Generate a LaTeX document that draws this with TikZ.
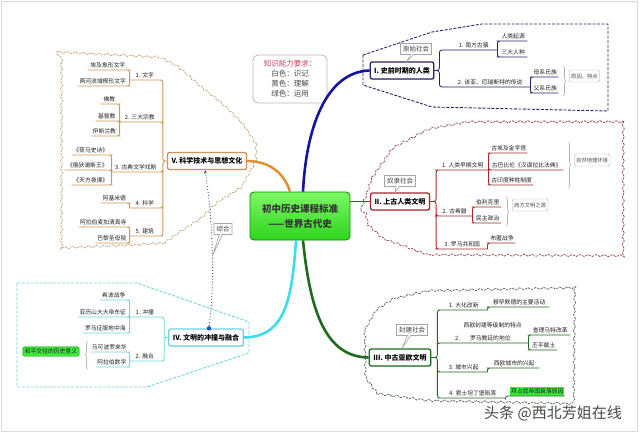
\documentclass[tikz,border=0pt]{standalone}
\usepackage{fontspec}
\setmainfont{Noto Sans CJK SC}
\usepackage{xcolor}
\usetikzlibrary{arrows.meta, shapes.callouts, decorations.pathmorphing, decorations.pathreplacing, shadows}

\definecolor{blueI}{HTML}{1414A0}
\definecolor{navyI}{HTML}{23246A}
\definecolor{redII}{HTML}{A02828}
\definecolor{cloudII}{HTML}{A04A4A}
\definecolor{greenIII}{HTML}{1E6A1E}
\definecolor{cloudIII}{HTML}{4E6A4E}
\definecolor{cyanIV}{HTML}{3EDDEE}
\definecolor{lineIV}{HTML}{6FD3E0}
\definecolor{orangeV}{HTML}{E58C30}
\definecolor{lineV}{HTML}{CF9355}
\definecolor{cloudV}{HTML}{C9A272}
\definecolor{legendred}{HTML}{C8405A}
\definecolor{hubtop}{HTML}{7CF865}
\definecolor{hubbot}{HTML}{2FD41E}
\definecolor{hilite}{HTML}{3BEA3B}

\begin{document}
\begin{tikzpicture}[x=1pt, y=-1pt,
    hub/.style={draw=green!55!black, line width=0.8pt, rounded corners=4pt, top color=hubtop, bottom color=hubbot,
      align=center, font=\fontsize{9.5}{15}\selectfont\bfseries, text=black!80, minimum width=100pt, minimum height=48pt},
    legend/.style={draw={rgb,255:red,200;green,178;blue,188}, line width=0.8pt, rounded corners=5pt, fill=white,
      align=center, font=\fontsize{7.5}{10}\selectfont, text=black!70, minimum width=74pt, minimum height=48pt},
    topic/.style={draw=#1, line width=1.3pt, fill=white, rounded corners=2pt, font=\fontsize{7}{8}\selectfont\bfseries,
      inner xsep=4pt, minimum height=17pt, drop shadow={opacity=0.2, shadow xshift=1pt, shadow yshift=-1pt}},
    leaf/.style={font=\fontsize{5.8}{7}\selectfont, text=black!88, inner xsep=1pt, inner ysep=1.5pt},
    twig/.style={draw=#1, line width=0.8pt, rounded corners=2.5pt},
    note/.style={draw=gray!65, fill=white, rounded corners=1.5pt, font=\fontsize{5.3}{6}\selectfont, text=black!70,
      inner sep=2pt, minimum height=12pt},
    tag/.style={rectangle callout, draw=gray!70, line width=0.6pt, fill=white, font=\fontsize{6.5}{7}\selectfont,
      text=black!75, inner sep=2.5pt, callout pointer width=3pt},
    bracket/.style={decorate, decoration={brace, amplitude=3pt}, draw=gray!60, line width=0.6pt},
    wavyline/.style={draw=#1, line width=0.7pt, dash pattern=on 2.5pt off 1pt, decorate,
      decoration={snake, amplitude=1pt, segment length=8pt}},
    fenceline/.style={draw=#1, line width=0.9pt, dash pattern=on 3pt off 1.5pt},
    linkline/.style={draw={rgb,255:red,60;green,90;blue,150}, line width=0.9pt, dotted, -{Stealth[length=3.5pt, width=3pt]}},
  ]
  \useasboundingbox (0,0) rectangle (640,433);
  \draw[gray!30, line width=1.5pt] (1.5,1.5) rectangle (637.5,431.5);

  % group outlines
  \draw[fenceline=navyI] (363,55) -- (432,32) -- (482,24) -- (608,24) -- (608,111) -- (432,107) -- (363,85) -- cycle;
  \draw[wavyline=cloudII] (361,210) -- (372,178) -- (393,148) -- (427,130) -- (465,123) -- (622,123) -- (622,258)
    -- (427,257) -- (380,240) -- (364,225) -- cycle;
  \draw[wavyline=cloudIII] (365,330) -- (375,312) -- (390,302) -- (428,293) -- (573,290) -- (572,408) -- (430,405)
    -- (378,398) -- (366,382) -- cycle;
  \draw[fenceline=lineIV] (17,283) -- (137,283) -- (249,322) -- (249,353) -- (147,387) -- (17,387) -- cycle;
  \draw[wavyline=cloudV] (57,52) -- (157,57) -- (177,67) -- (200,87) -- (220,103) -- (240,123) -- (253,143)
    -- (253,160) -- (247,172) -- (237,190) -- (213,205) -- (197,220) -- (177,233) -- (160,245) -- (127,247)
    -- (57,250) -- cycle;

  \node[hub] (core) at (300,216) {初中历史课程标准\\——世界古代史};
  \node[legend] (req) at (290,79) {\textcolor{legendred}{知识能力要求：}\\白色：识记\\黄色：理解\\绿色：运用};

  \node[topic=navyI] (nI) at (402,70.5) {I. 史前时期的人类};
  \node[topic=redII] (nII) at (400,201.5) {II. 上古人类文明};
  \node[topic=greenIII] (nIII) at (400,357.5) {III. 中古亚欧文明};
  \node[topic=lineIV] (nIV) at (206,337.5) {IV. 文明的冲撞与融合};
  \node[topic=lineV] (nV) at (207,161) {V. 科学技术与思想文化};

  \draw[blueI, line width=2.6pt] ([xshift=3pt]core.north) .. controls (306,130) and (325,72) .. (nI.west);
  \draw[orangeV, line width=2.4pt] ([xshift=-10pt]core.north) .. controls (284,172) and (268,161) .. (nV.east);
  \draw[redII, line width=1.5pt] (core.east |- nII.west) -- (nII.west);
  \draw[greenIII, line width=2.6pt] ([xshift=3pt]core.south) .. controls (310,310) and (325,357) .. (nIII.west);
  \draw[cyanIV, line width=2.6pt] ([xshift=-4pt]core.south) .. controls (292,300) and (285,337) .. (nIV.east);

  \node[tag, callout absolute pointer={([xshift=5pt]nI.north)}] (tI) at (416,49) {原始社会};
  \node[tag, callout absolute pointer={([xshift=-5pt]nII.north)}] (tII) at (400,181) {奴隶社会};
  \node[tag, callout absolute pointer={([xshift=2pt]nIII.north)}] (tIII) at (412,330) {封建社会};

  % I
  \node[leaf, anchor=south west, minimum width=47pt] (a1) at (450,50) {1. 南方古猿};
  \node[leaf, anchor=south west, minimum width=28pt] (a11) at (499,41) {人类起源};
  \node[leaf, anchor=south west, minimum width=28pt] (a12) at (499,57) {三大人种};
  \node[leaf, anchor=south west, minimum width=80pt] (a2) at (450,87) {2. 该亚、厄瑞斯特的传说};
  \node[leaf, anchor=south west, minimum width=26pt] (a21) at (532,77) {母系氏族};
  \node[leaf, anchor=south west, minimum width=26pt] (a22) at (532,93) {父系氏族};
  \draw[twig=navyI] (nI.east) -- ++(5,0) |- (a1.south west) -- (a1.south east)
    (nI.east) -- ++(5,0) |- (a2.south west) -- (a2.south east);
  \draw[twig=navyI] (a1.south east) |- (a11.south west) -- (a11.south east)
    (a1.south east) |- (a12.south west) -- (a12.south east)
    (a2.south east) |- (a21.south west) -- (a21.south east)
    (a2.south east) |- (a22.south west) -- (a22.south east);
  \draw[bracket] (563,66) -- (563,96);
  \node[note, anchor=west] (why) at (569,76) {原因、特点};

  % II
  \node[leaf, anchor=south west, minimum width=51pt] (b1) at (437,170) {1. 人类早期文明};
  \node[leaf, anchor=south west, minimum width=37pt] (b11) at (490,153) {古埃及金字塔};
  \node[leaf, anchor=south west, minimum width=73pt] (b12) at (490,170) {古巴比伦《汉谟拉比法典》};
  \node[leaf, anchor=south west, minimum width=43pt] (b13) at (490,185) {古印度种姓制度};
  \node[leaf, anchor=south west, minimum width=35pt] (b2) at (437,216) {2. 古希腊};
  \node[leaf, anchor=south west, minimum width=27pt] (b21) at (474,207) {伯利克里};
  \node[leaf, anchor=south west, minimum width=27pt] (b22) at (474,223) {民主政治};
  \node[leaf, anchor=south west, minimum width=50pt] (b3) at (437,249) {3. 罗马共和国};
  \node[leaf, anchor=south west, minimum width=26pt] (b31) at (489,243) {布匿战争};
  \draw[twig=redII] (nII.east) -- ++(6,0) |- (b1.south west) -- (b1.south east)
    (nII.east) -- ++(6,0) |- (b2.south west) -- (b2.south east)
    (nII.east) -- ++(6,0) |- (b3.south west) -- (b3.south east);
  \draw[twig=redII] (b1.south east) |- (b11.south west) -- (b11.south east)
    (b1.south east) |- (b12.south west) -- (b12.south east)
    (b1.south east) |- (b13.south west) -- (b13.south east)
    (b2.south east) |- (b21.south west) -- (b21.south east)
    (b2.south east) |- (b22.south west) -- (b22.south east)
    (b3.south east) |- (b31.south west) -- (b31.south east);
  \draw[bracket] (568,142) -- (568,188);
  \node[note, anchor=west] (geo) at (574,160) {自然地理环境};
  \draw[bracket] (506,197) -- (506,226);
  \node[note, anchor=west] (west) at (512,205) {西方文明之源};

  % III
  \node[leaf, anchor=south west, minimum width=47pt] (c1) at (440,310) {1. 大化改新};
  \node[leaf, anchor=south west, minimum width=60pt] (c11) at (489,307) {穆罕默德的主要活动};
  \node[leaf, anchor=south west, minimum width=88pt, align=left, font=\fontsize{5.8}{13}\selectfont] (c2) at (440,343)
    {\hspace*{17pt}西欧封建等级制的特点\\\hspace*{8.5pt}2.\hspace{10pt}罗马教廷的地位};
  \node[leaf, anchor=south west, minimum width=40pt] (c21) at (530,335) {查理马特改革};
  \node[leaf, anchor=south west, minimum width=27pt] (c22) at (530,350) {丕平献土};
  \node[leaf, anchor=south west, minimum width=47pt] (c3) at (440,372) {3. 城市兴起};
  \node[leaf, anchor=south west, minimum width=50pt] (c31) at (489,368) {西欧城市的兴起};
  \node[leaf, anchor=south west, minimum width=65pt] (c4) at (440,398) {4. 君士坦丁堡陷落};
  \node[leaf, anchor=south west, minimum width=51pt, fill=hilite] (c41) at (510,396) {拜占庭帝国衰落原因};
  \draw[twig=greenIII] (nIII.east) -- ++(6,0) |- (c1.south west) -- (c1.south east)
    (nIII.east) -- ++(6,0) |- (c2.south west) -- (c2.south east)
    (nIII.east) -- ++(6,0) |- (c3.south west) -- (c3.south east)
    (nIII.east) -- ++(6,0) |- (c4.south west) -- (c4.south east);
  \draw[twig=greenIII] (c1.south east) |- (c11.south west) -- (c11.south east)
    (c2.south east) |- (c21.south west) -- (c21.south east)
    (c2.south east) |- (c22.south west) -- (c22.south east)
    (c3.south east) |- (c31.south west) -- (c31.south east)
    (c4.south east) |- (c41.south west) -- (c41.south east);

  % IV
  \node[leaf, anchor=south east, minimum width=30pt] (d1) at (160,317) {1. 冲撞};
  \node[leaf, anchor=south east, minimum width=28pt] (d11) at (128,300) {希波战争};
  \node[leaf, anchor=south east, minimum width=50pt] (d12) at (128,317) {亚历山大大帝东征};
  \node[leaf, anchor=south east, minimum width=45pt] (d13) at (128,333) {罗马征服地中海};
  \node[leaf, anchor=south east, minimum width=30pt] (d2) at (160,361) {2. 融合};
  \node[leaf, anchor=south east, minimum width=37pt] (d21) at (128,352) {马可波罗来华};
  \node[leaf, anchor=south east, minimum width=32pt] (d22) at (128,367) {阿拉伯数字};
  \draw[twig=lineIV] (nIV.west) -- ++(-4,0) |- (d1.south east) -- (d1.south west)
    (nIV.west) -- ++(-4,0) |- (d2.south east) -- (d2.south west);
  \draw[twig=lineIV] (d1.south west) |- (d11.south east) -- (d11.south west)
    (d1.south west) |- (d12.south east) -- (d12.south west)
    (d1.south west) |- (d13.south east) -- (d13.south west)
    (d2.south west) |- (d21.south east) -- (d21.south west)
    (d2.south west) |- (d22.south east) -- (d22.south west);
  \draw[bracket] (88,369) -- (88,341);
  \node[leaf, draw=green!55!black, fill=hilite, rounded corners=1.5pt, inner sep=2pt] (peace) at (51,351.5) {和平交往的历史意义};

  % V
  \node[leaf, anchor=south east, minimum width=30pt] (e1) at (160,80) {1. 文字};
  \node[leaf, anchor=south east, minimum width=40pt] (e11) at (128,70) {埃及象形文字};
  \node[leaf, anchor=south east, minimum width=50pt] (e12) at (128,86) {两河流域楔形文字};
  \node[leaf, anchor=south east, minimum width=40pt] (e2) at (160,122) {2. 三大宗教};
  \node[leaf, anchor=south east, minimum width=17pt] (e21) at (118,104) {佛教};
  \node[leaf, anchor=south east, minimum width=22pt] (e22) at (118,121) {基督教};
  \node[leaf, anchor=south east, minimum width=27pt] (e23) at (118,136) {伊斯兰教};
  \node[leaf, anchor=south east, minimum width=48pt] (e3) at (160,172) {3. 古典文学戏剧};
  \node[leaf, anchor=south east, minimum width=38pt] (e31) at (110,155) {《荷马史诗》};
  \node[leaf, anchor=south east, minimum width=45pt] (e32) at (110,170) {《俄狄浦斯王》};
  \node[leaf, anchor=south east, minimum width=38pt] (e33) at (110,185) {《天方夜谭》};
  \node[leaf, anchor=south east, minimum width=30pt] (e4) at (160,208) {4. 科学};
  \node[leaf, anchor=south east, minimum width=27pt] (e41) at (128,203) {阿基米德};
  \node[leaf, anchor=south east, minimum width=30pt] (e5) at (160,236) {5. 建筑};
  \node[leaf, anchor=south east, minimum width=49pt] (e51) at (128,227) {阿拉伯麦加清真寺};
  \node[leaf, anchor=south east, minimum width=32pt] (e52) at (128,243) {巴黎圣母院};
  \draw[twig=lineV] (nV.west) -- ++(-4,0) |- (e1.south east) -- (e1.south west)
    (nV.west) -- ++(-4,0) |- (e2.south east) -- (e2.south west)
    (nV.west) -- ++(-4,0) |- (e3.south east) -- (e3.south west)
    (nV.west) -- ++(-4,0) |- (e4.south east) -- (e4.south west)
    (nV.west) -- ++(-4,0) |- (e5.south east) -- (e5.south west);
  \draw[twig=lineV] (e1.south west) |- (e11.south east) -- (e11.south west)
    (e1.south west) |- (e12.south east) -- (e12.south west)
    (e2.south west) |- (e21.south east) -- (e21.south west)
    (e2.south west) |- (e22.south east) -- (e22.south west)
    (e2.south west) |- (e23.south east) -- (e23.south west)
    (e3.south west) |- (e31.south east) -- (e31.south west)
    (e3.south west) |- (e32.south east) -- (e32.south west)
    (e3.south west) |- (e33.south east) -- (e33.south west)
    (e4.south west) |- (e41.south east) -- (e41.south west)
    (e5.south west) |- (e51.south east) -- (e51.south west)
    (e5.south west) |- (e52.south east) -- (e52.south west);

  % link IV -> V
  \node[circle, fill={rgb,255:red,30;green,90;blue,190}, inner sep=0pt, minimum size=4.5pt] (jn) at ([xshift=3pt]nIV.north) {};
  \draw[linkline] (jn.north) .. controls (216,280) and (212,215) .. ([xshift=-2pt]nV.south) coordinate[pos=0.45] (zh);
  \node[tag, callout absolute pointer={(zh)}] (tz) at (223,229) {综合};

  \node[font=\fontsize{15}{15}\selectfont, text=black!72] (mark) at (553,413) {头条 @西北芳姐在线};
\end{tikzpicture}
\end{document}
